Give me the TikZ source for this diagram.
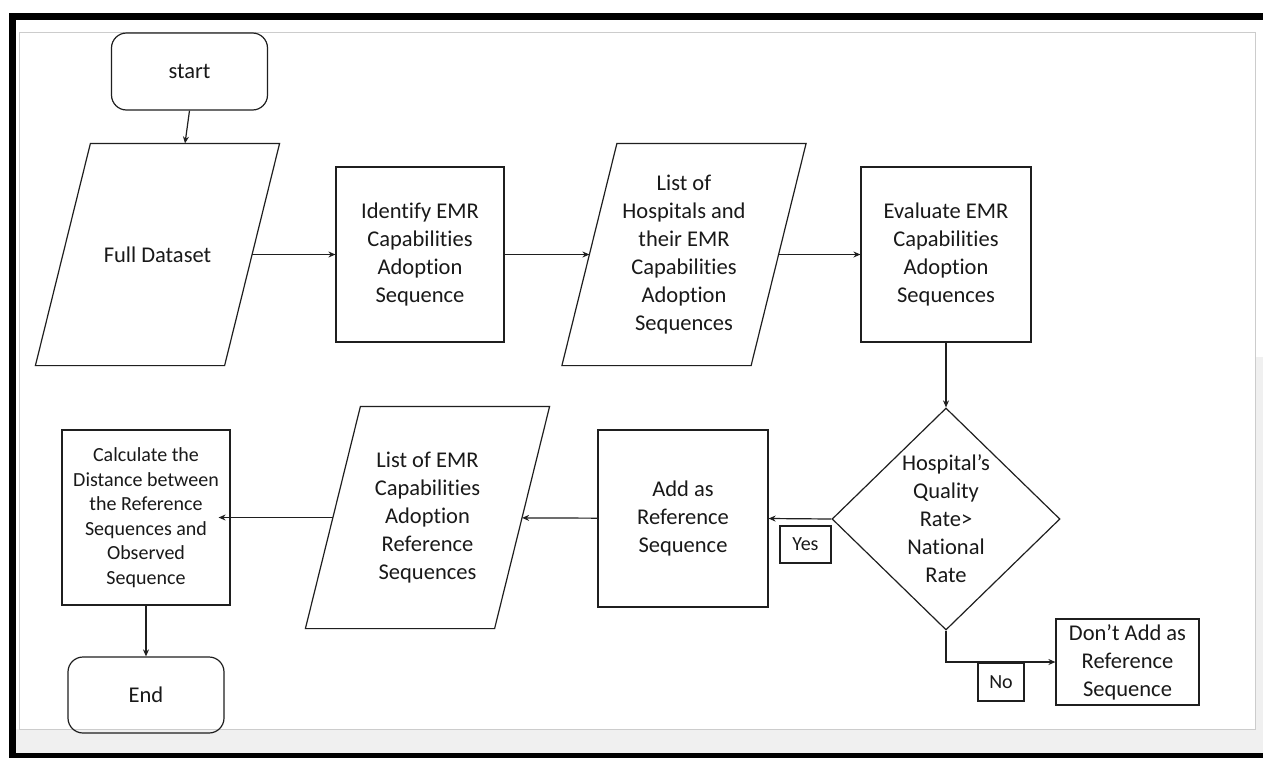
\documentclass[tikz,border=0pt]{standalone}
\usepackage{fontspec}
\setmainfont{Carlito}[Ligatures=NoCommon]
\usetikzlibrary{shapes.geometric,arrows.meta}
\tikzset{
  base/.style={draw=black!88, line width=1.2pt, align=center, inner sep=0pt,
    font=\fontsize{22.5}{28}\selectfont, text=black!90},
  procbox/.style={base, rectangle},
  term/.style={base, rectangle, rounded corners=15pt},
  io/.style={base, draw=none, rectangle, minimum width=188pt, minimum height=221pt},
  ioline/.style={draw=black!88, line width=1.2pt},
  decision/.style={base, diamond, minimum width=228pt, minimum height=222pt},
  lbl/.style={base, font=\fontsize{20}{24}\selectfont},
  arr/.style={-{Stealth[length=7pt,width=6pt]}, line width=1.2pt, draw=black!88},
}
\begin{document}
\begin{tikzpicture}[x=1pt,y=-1pt]
\useasboundingbox (0,0) rectangle (1263,758);
% frame / background
\fill[white] (0,0) rectangle (1263,758);
\fill[black!6] (16,729) rectangle (1263,753);
\fill[black!6] (1256,357) rectangle (1263,729);
\draw[black!20, line width=1pt] (19,32) rectangle (1255,729);
\fill[black] (9,13) rectangle (1263,20);
\fill[black] (9,13) rectangle (16,758);
\fill[black] (9,753) rectangle (1263,758);

% nodes
\node[term, minimum width=156pt, minimum height=77pt] (start) at (189.5,71.5) {start};
\node[io] (full) at (157.5,254.5) {Full Dataset};
\node[procbox, minimum width=168pt, minimum height=175pt] (ident) at (420,254.5)
  {Identify EMR\\Capabilities\\Adoption\\Sequence};
\node[io] (listh) at (684,254.5)
  {List of\\Hospitals and\\their EMR\\Capabilities\\Adoption\\Sequences};
\node[procbox, minimum width=170pt, minimum height=175pt] (eval) at (946,254.5)
  {Evaluate EMR\\Capabilities\\Adoption\\Sequences};
\node[decision] (dec) at (946,519)
  {Hospital’s\\Quality\\Rate>\\National\\Rate};
\node[procbox, minimum width=170pt, minimum height=177pt] (addref) at (683,518.5)
  {Add as\\Reference\\Sequence};
\node[io] (listemr) at (427.5,517.5)
  {List of EMR\\Capabilities\\Adoption\\Reference\\Sequences};
\node[procbox, minimum width=168pt, minimum height=175pt,
  font=\fontsize{20}{24.5}\selectfont] (calc) at (146,517.5)
  {Calculate the\\Distance between\\the Reference\\Sequences and\\Observed\\Sequence};
\node[term, minimum width=156pt, minimum height=76pt] (endn) at (146,695) {End};
\node[procbox, minimum width=143pt, minimum height=86pt] (dont) at (1127.5,662)
  {Don’t Add as\\Reference\\Sequence};
\node[lbl, minimum width=51pt, minimum height=37pt] (yes) at (805.5,544.5) {Yes};
\node[lbl, minimum width=46pt, minimum height=38pt] (no) at (1001,682) {No};

% parallelogram outlines of the data nodes
\foreach \n in {full,listh,listemr}{
  \draw[ioline] ([xshift=27.5pt]\n.north west) -- ([xshift=27.5pt]\n.north east)
    -- ([xshift=-27.5pt]\n.south east) -- ([xshift=-27.5pt]\n.south west) -- cycle;
}

% connectors
\draw[arr] (start.south) -- ([xshift=27.5pt]full.north);
\draw[arr] (full) -- (ident);
\draw[arr] (ident) -- (listh);
\draw[arr] (listh) -- (eval);
\draw[arr] (eval) -- (dec);
\draw[arr] (dec.west) -- (addref.east);
\draw[arr] (addref) -- (listemr);
\draw[arr] (listemr) -- ([xshift=-12pt]calc.east);
\draw[arr] (calc) -- (endn);
\draw[arr] (dec.south) |- (dont.west);
\end{tikzpicture}
\end{document}
